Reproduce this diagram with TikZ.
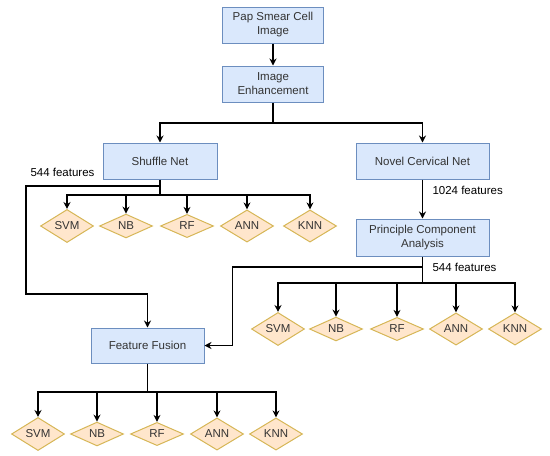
\documentclass[tikz,border=0pt]{standalone}
\usepackage{fontspec}
\setmainfont{Liberation Sans}
\usetikzlibrary{arrows.meta,shapes.geometric}
\definecolor{boxfill}{HTML}{DAE8FC}
\definecolor{boxline}{HTML}{6C8EBF}
\definecolor{clsfill}{HTML}{FFE6CC}
\definecolor{clsline}{HTML}{D6B656}
\definecolor{boxtext}{HTML}{333333}
\begin{document}
\begin{tikzpicture}[x=1pt, y=-1pt,
  font=\fontsize{11.5}{14}\selectfont,
  block/.style={draw=boxline, fill=boxfill, line width=1pt, text=boxtext, align=center, minimum height=36pt, inner sep=2pt},
  cls/.style={diamond, draw=clsline, fill=clsfill, line width=1pt, text=boxtext, minimum width=53pt, minimum height=22pt, inner sep=0pt},
  link/.style={line width=1.4pt, -{Stealth[length=7pt,width=7pt]}},
  wire/.style={line width=1.4pt}]
  \useasboundingbox (0,0) rectangle (550,456);

  % main chain
  \node[block, minimum width=101pt] (pap) at (273,25) {Pap Smear Cell\\Image};
  \node[block, minimum width=101pt] (enh) at (273,84) {Image\\Enhancement};
  \node[block, minimum width=114pt] (shuffle) at (160,161) {Shuffle Net};
  \node[block, minimum width=133pt] (novel) at (422.5,161) {Novel Cervical Net};
  \node[block, minimum width=133pt, minimum height=37pt] (pca) at (422.5,237.5) {Principle Component\\Analysis};
  \node[block, minimum width=113pt, minimum height=35pt] (fusion) at (147.5,345.5) {Feature Fusion};

  % feature counts
  \node[anchor=east] (shufcount) at (98,172) {544 features};
  \node[anchor=west] (novcount) at (429,190) {1024 features};
  \node[anchor=west] (pcacount) at (429,267) {544 features};

  % classifiers
  \foreach \n/\x in {SVM/67, NB/126, RF/187, ANN/247, KNN/310}
    \node[cls] (s\n) at (\x,226) {\n};
  \foreach \n/\x in {SVM/278, NB/336, RF/397, ANN/456, KNN/515}
    \node[cls] (p\n) at (\x,329) {\n};
  \foreach \n/\x in {SVM/38, NB/97, RF/157, ANN/217, KNN/276}
    \node[cls] (f\n) at (\x,434) {\n};

  \coordinate (ebus) at (273,123);
  \coordinate (sfork) at (160,186);
  \coordinate (sbus) at (160,195);
  \coordinate (pfork) at (422.5,267);
  \coordinate (pbus) at (422.5,283);
  \coordinate (fbus) at (147.5,392);

  \draw[link] (pap) -- (enh);
  \draw[wire] (enh.south) -- (ebus);
  \draw[link] (ebus) -| (shuffle.north);
  \draw[link] (ebus) -| (novel.north);
  \draw[link] (novel) -- (pca);

  \draw[wire] (shuffle.south) -- (sbus);
  \foreach \n in {SVM, NB, RF, ANN, KNN}
    \draw[link] (sbus) -| (s\n.north);
  \draw[link] (sfork) -| (26,294) -| (fusion.north);

  \draw[wire] (pca.south) -- (pbus);
  \foreach \n in {SVM, NB, RF, ANN, KNN}
    \draw[link] (pbus) -| (p\n.north);
  \draw[link] (pfork) -| ([xshift=28pt]fusion.east) -- (fusion.east);

  \draw[wire] (fusion.south) -- (fbus);
  \foreach \n in {SVM, NB, RF, ANN, KNN}
    \draw[link] (fbus) -| (f\n.north);
\end{tikzpicture}
\end{document}
